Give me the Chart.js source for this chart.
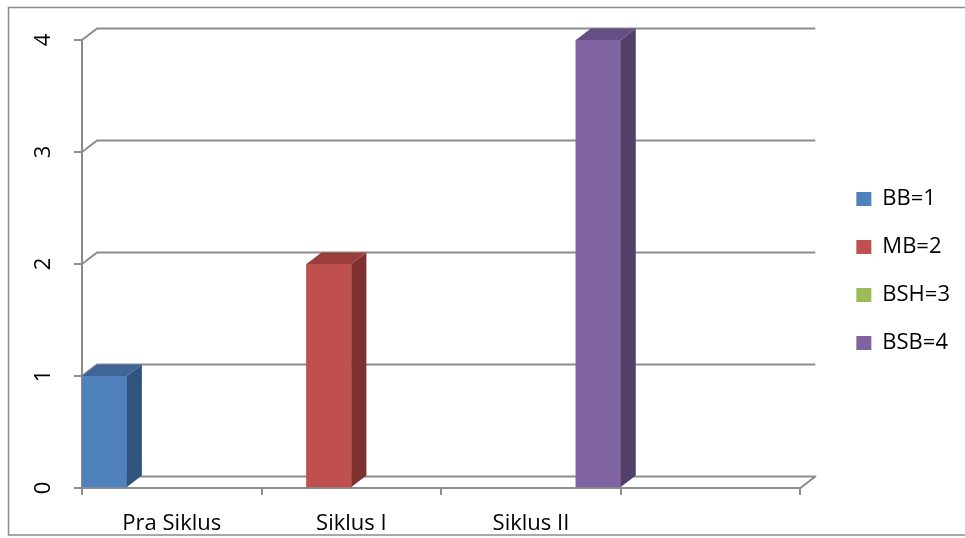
<!DOCTYPE html>
<html><head><meta charset="utf-8">
<script src="https://cdn.jsdelivr.net/npm/chart.js@4.4.1/dist/chart.umd.min.js"></script>
<style>html,body{margin:0;padding:0;background:#fff}#wrap{width:965px;height:538px;position:relative}</style>
</head><body><div id="wrap"><canvas id="c"></canvas></div>
<script>
// ---- data ----
const categories = ['Pra Siklus', 'Siklus I', 'Siklus II', ''];
const seriesNames = ['BB=1', 'MB=2', 'BSH=3', 'BSB=4'];
const bbValues = [1, null, null, null];
const mbValues = [null, 2, null, null];
const bshValues = [null, null, null, null];
const bsbValues = [null, null, 4, null];
const yTickValues = [0, 1, 2, 3, 4];

// ---- styles ----
const frontColors = ['#4F81BD', '#C0504D', '#9BBB59', '#8064A2'];
const topColors = ['#3E6797', '#9A3E3B', '#7C9A45', '#654F82'];
const sideColors = ['#31547F', '#7E312F', '#66803A', '#524069'];
const DX = 15, DY = -11.5;
const LINE = '#8c8c8c';
const FONT = '"Open Sans", Lato, sans-serif';

const depthPlugin = {
  id: 'depth',
  beforeDraw(chart) {
    const ctx = chart.ctx;
    ctx.save();
    ctx.strokeStyle = LINE; ctx.lineWidth = 1.5;
    ctx.beginPath();
    ctx.moveTo(chart.width + 2, 7.5); ctx.lineTo(8.5, 7.5); ctx.lineTo(8.5, 535); ctx.lineTo(chart.width + 2, 535);
    ctx.stroke();
    ctx.restore();
  },
  beforeDatasetsDraw(chart) {
    const {ctx, chartArea: a, scales: {y}} = chart;
    ctx.save(); ctx.strokeStyle = LINE; ctx.lineWidth = 2; ctx.lineJoin = 'round';
    yTickValues.forEach((v, k) => {
      const py = y.getPixelForValue(v);
      ctx.beginPath();
      ctx.moveTo(a.left, py); ctx.lineTo(a.left + DX, py + DY); ctx.lineTo(a.right + DX, py + DY);
      if (k === 0) ctx.lineTo(a.right, py);
      ctx.stroke();
    });
    ctx.restore();
  },
  afterDatasetsDraw(chart) {
    const ctx = chart.ctx;
    ctx.save();
    chart.data.datasets.forEach((ds, di) => {
      const meta = chart.getDatasetMeta(di);
      if (meta.hidden) return;
      meta.data.forEach((el, i) => {
        if (ds.data[i] == null) return;
        const {x, y, base, width} = el.getProps(['x', 'y', 'base', 'width'], true);
        const l = x - width / 2, r = x + width / 2;
        ctx.fillStyle = sideColors[di];
        ctx.beginPath(); ctx.moveTo(r, y); ctx.lineTo(r + DX, y + DY); ctx.lineTo(r + DX, base + DY); ctx.lineTo(r, base); ctx.closePath(); ctx.fill();
        ctx.fillStyle = topColors[di];
        ctx.beginPath(); ctx.moveTo(l, y); ctx.lineTo(l + DX, y + DY); ctx.lineTo(r + DX, y + DY); ctx.lineTo(r, y); ctx.closePath(); ctx.fill();
      });
    });
    ctx.restore();
  }
};

const seriesValues = [bbValues, mbValues, bshValues, bsbValues];

new Chart(document.getElementById('c'), {
  type: 'bar',
  data: {
    labels: categories,
    datasets: seriesNames.map((n, i) => ({label: n, data: seriesValues[i], backgroundColor: frontColors[i], borderWidth: 0}))
  },
  options: {
    responsive: true, maintainAspectRatio: false, animation: false,
    datasets: {bar: {barPercentage: 1, categoryPercentage: 1}},
    layout: {padding: {top: 4, left: 0, right: 5, bottom: 0}},
    plugins: {
      title: {display: true, text: '', padding: {top: 12, bottom: 12}, font: {size: 10}},
      legend: {position: 'right', align: 'center',
        labels: {boxWidth: 15, boxHeight: 14, padding: 26, color: '#000', font: {family: FONT, size: 22}}},
      tooltip: {enabled: false}
    },
    scales: {
      x: {
        grid: {display: true, drawOnChartArea: false, offset: true, tickLength: 7, color: LINE, lineWidth: 2},
        border: {display: true, color: LINE, width: 2},
        ticks: {color: '#000', font: {family: FONT, size: 22}, padding: 16, maxRotation: 0, autoSkip: false},
        afterFit(s) { s.height = 50; }
      },
      y: {
        min: yTickValues[0], max: yTickValues[yTickValues.length - 1],
        ticks: {stepSize: 1, minRotation: 90, maxRotation: 90, crossAlign: 'center', padding: 24, color: '#000', font: {family: FONT, size: 22}},
        grid: {drawOnChartArea: false, tickLength: 8, color: LINE, lineWidth: 2},
        border: {display: true, color: LINE, width: 2},
        afterFit(s) { s.width = 82; }
      },
      yPad: {
        type: 'linear', position: 'right', display: true,
        grid: {display: false}, border: {display: false}, ticks: {display: false},
        afterFit(s) { s.width = 30; }
      }
    }
  },
  plugins: [depthPlugin]
});
</script></body></html>
